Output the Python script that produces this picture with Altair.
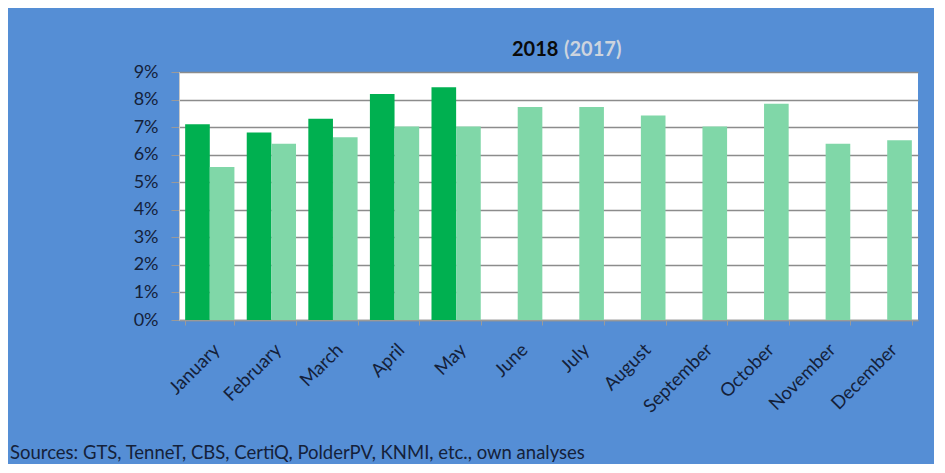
import altair as alt
import pandas as pd

months = ["January", "February", "March", "April", "May", "June", "July",
          "August", "September", "October", "November", "December"]
share_2018 = [0.071, 0.068, 0.073, 0.082, 0.0845, None, None, None, None, None, None, None]
share_2017 = [0.0555, 0.064, 0.0663, 0.0702, 0.0702, 0.0773, 0.0773, 0.0742, 0.0702, 0.0785, 0.064, 0.0652]
years = ["2018", "2017"]
y_ticks = [0, 0.01, 0.02, 0.03, 0.04, 0.05, 0.06, 0.07, 0.08, 0.09]

rows = []
for m, a, b in zip(months, share_2018, share_2017):
    if a is not None:
        rows.append({"month": m, "year": "2018", "share": a})
    if b is not None:
        rows.append({"month": m, "year": "2017", "share": b})
df = pd.DataFrame(rows)

FONT = "Lato"
LABEL_COLOR = "#14213a"

bars = alt.Chart(df).mark_bar().encode(
    x=alt.X("month:N", sort=months,
            scale=alt.Scale(paddingInner=0.2, paddingOuter=0.1),
            axis=alt.Axis(title=None, labelAngle=-45, tickBand="extent",
                          labelFont=FONT, labelFontSize=18.5, labelColor=LABEL_COLOR,
                          labelPadding=15, tickSize=5, tickColor="#9a9a9a",
                          domainColor="#9a9a9a", domainWidth=1.5, grid=False)),
    xOffset=alt.XOffset("year:N", sort=years,
                        scale=alt.Scale(domain=years, paddingInner=0, paddingOuter=0)),
    y=alt.Y("share:Q",
            scale=alt.Scale(domain=[0, 0.09], nice=False),
            axis=alt.Axis(title=None, format=".0%", values=y_ticks,
                          labelFont=FONT, labelFontSize=18, labelColor=LABEL_COLOR,
                          labelPadding=13, tickSize=8, tickColor="#9a9a9a",
                          domainColor="#c8c8c8", domainWidth=1,
                          grid=True, gridColor="#8c8c8c", gridWidth=1.5)),
    color=alt.Color("year:N", scale=alt.Scale(domain=years, range=["#00B050", "#80D7A8"]),
                    legend=None),
)

title_df = pd.DataFrame({"t": ["x"]})
t2018 = alt.Chart(title_df).mark_text(
    text="2018", font=FONT, fontSize=20, fontWeight="bold", color="#0a0a0a",
    align="left", baseline="middle"
).encode(x=alt.value(333), y=alt.value(-22))
t2017 = alt.Chart(title_df).mark_text(
    text="(2017)", font=FONT, fontSize=20, fontWeight="bold", color="#cdd4de",
    align="left", baseline="middle"
).encode(x=alt.value(385), y=alt.value(-22))
source = alt.Chart(title_df).mark_text(
    text="Sources: GTS, TenneT, CBS, CertiQ, PolderPV, KNMI, etc., own analyses",
    font=FONT, fontSize=18.5, color=LABEL_COLOR, align="left", baseline="middle"
).encode(x=alt.value(-169), y=alt.value(381))

chart = alt.layer(bars, t2018, t2017, source).properties(
    width=739, height=248,
    background="#558ED5",
    autosize=alt.AutoSizeParams(type="none"),
    padding={"left": 171, "top": 64, "right": 16, "bottom": 144},
).configure_view(fill="white", stroke=None)

chart.save("out.html", embed_options={"renderer": "svg", "actions": False})
